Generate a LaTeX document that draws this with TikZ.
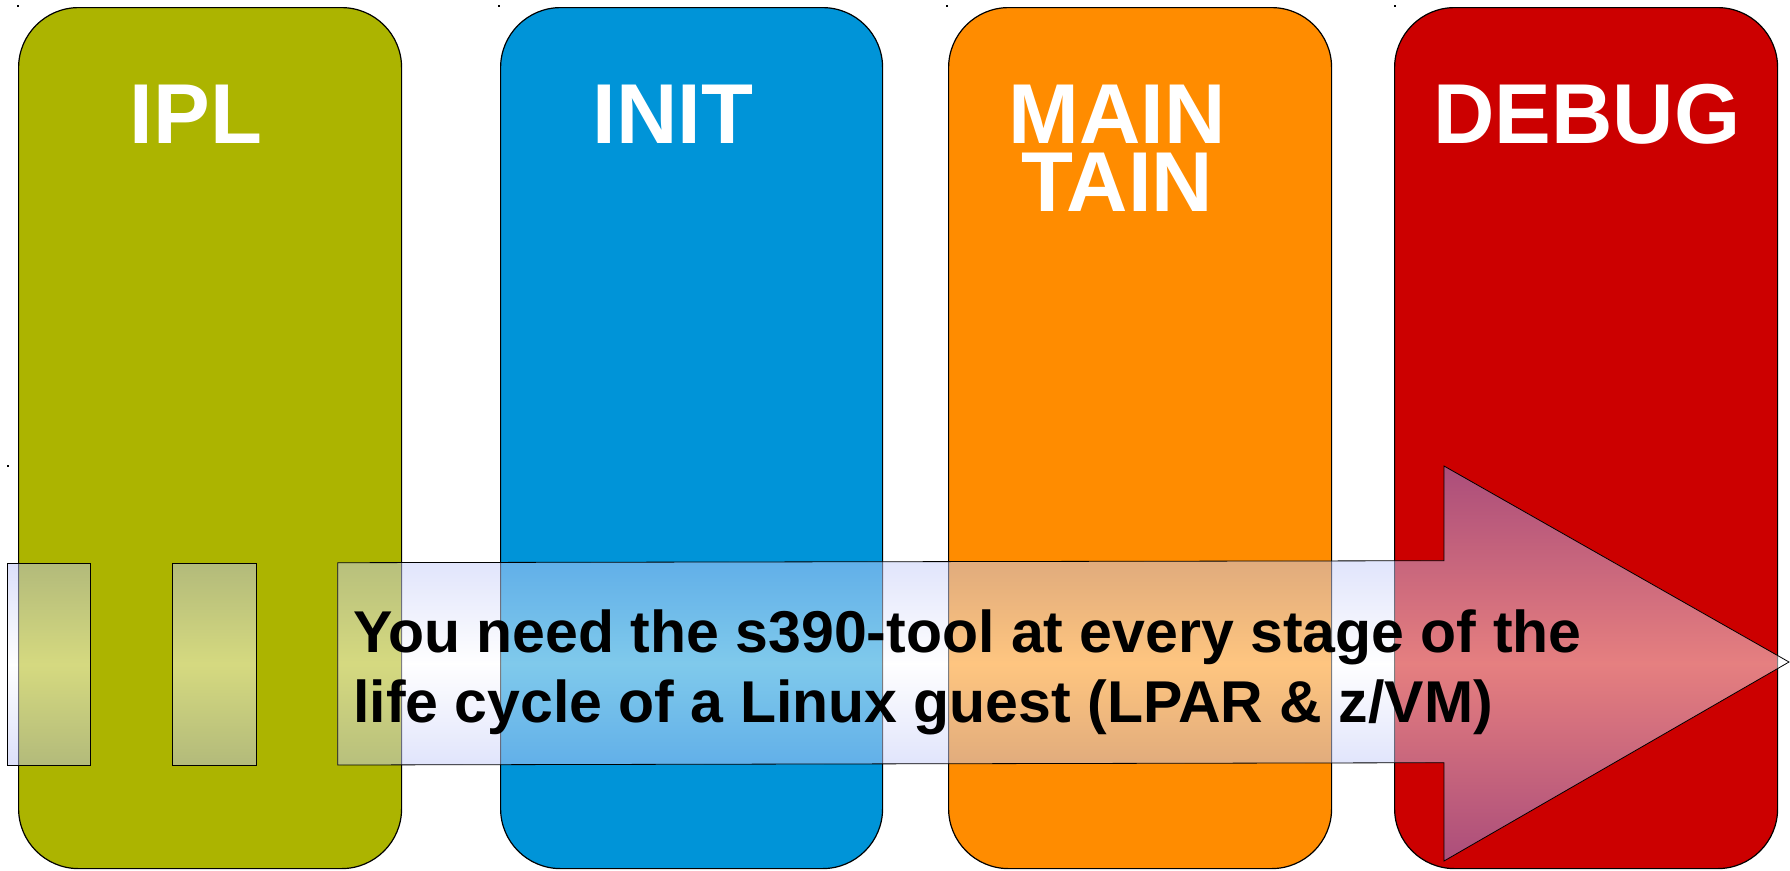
\documentclass[tikz,border=0pt]{standalone}
\usepackage{fontspec}
\setmainfont{Liberation Sans}
\definecolor{ipl}{RGB}{172,180,0}
\definecolor{initc}{RGB}{0,148,216}
\definecolor{maint}{RGB}{255,140,0}
\definecolor{dbg}{RGB}{204,0,0}
\definecolor{lav}{RGB}{186,193,246}
\definecolor{lavdark}{RGB}{140,155,245}
\begin{document}
\begin{tikzpicture}[x=1pt,y=-1pt,
  stage/.style={draw=black, line width=1.2pt, rounded corners=60pt, rectangle,
    anchor=north west, minimum width=383pt, minimum height=861pt, inner sep=0pt},
  title/.style={text=white, font=\fontsize{85}{68}\selectfont\bfseries, align=center, inner sep=0pt, anchor=base},
  tab/.style={draw=black, line width=0.9pt, fill opacity=0.5, top color=lav, bottom color=lav, middle color=white},
  arrowshape/.style={draw=black, line width=0.8pt, fill opacity=0.5, top color=lavdark, bottom color=lavdark, middle color=white},
  speck/.style={fill=black, minimum size=1.5pt, inner sep=0pt},
]
\useasboundingbox[fill=white] (0,0) rectangle (1790,870);

% stage boxes
\node[stage, fill=ipl] (ipl) at (18,7) {};
\node[stage, fill=initc, minimum width=382pt] (init) at (500,7) {};
\node[stage, fill=maint] (maint) at (948,7) {};
\node[stage, fill=dbg] (dbg) at (1394,7) {};

% titles
\node[title] (tipl) at (196,143) {IPL};
\node[title] (tinit) at (673,143) {INIT};
\node[title] (tmaint) at (1117,211) {MAIN\\TAIN};
\node[title] (tdbg) at (1587,143) {DEBUG};

% specks
\node[speck] (s1) at (18,6) {};
\node[speck] (s2) at (499,6) {};
\node[speck] (s3) at (947,6) {};
\node[speck] (s4) at (1395,6) {};
\node[speck] (s5) at (8,466) {};

% small tabs
\coordinate (r1a) at (7.3,563.3);
\coordinate (r1b) at (90.7,765.7);
\coordinate (r2a) at (172.3,563);
\coordinate (r2b) at (256,765.3);
\path[tab] (r1a) rectangle (r1b);
\path[tab] (r2a) rectangle (r2b);

% big arrow
\coordinate (a1) at (337.7,562.7);
\coordinate (a2) at (1444,560.7);
\coordinate (a3) at (1444,466);
\coordinate (tip) at (1789,662);
\coordinate (a4) at (1444,861);
\coordinate (a5) at (1444,762.7);
\coordinate (a6) at (337.7,765);
\path[arrowshape] (a1) -- (a2) -- (a3) -- (tip) -- (a4) -- (a5) -- (a6) -- cycle;

\node[anchor=base west, align=left, inner sep=0pt,
  font=\fontsize{59}{70.5}\selectfont\bfseries] (msg) at (353,722.5)
  {You need the s390-tool at every stage of the\\life cycle of a Linux guest (LPAR \& z/VM)};
\end{tikzpicture}
\end{document}
